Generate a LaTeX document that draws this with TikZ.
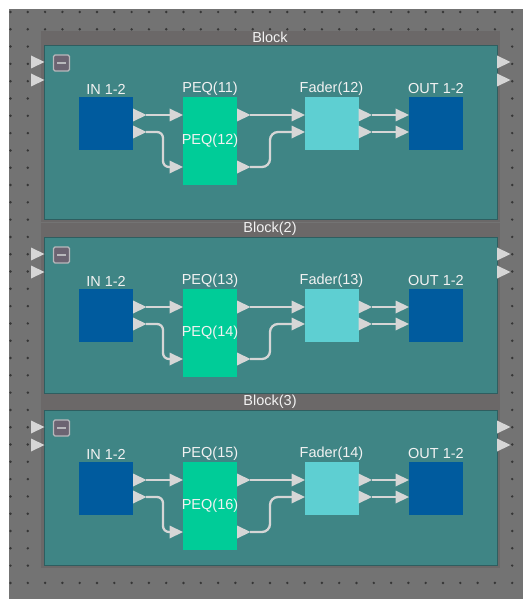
\documentclass[tikz,border=0pt]{standalone}
\usepackage{fontspec}
\setmainfont{Liberation Sans}
\definecolor{bgc}{HTML}{737373}
\definecolor{dotc}{HTML}{363636}
\definecolor{framec}{HTML}{6B6868}
\definecolor{tealc}{HTML}{3F8585}
\definecolor{tealedge}{HTML}{2E5E60}
\definecolor{bluec}{HTML}{005B9E}
\definecolor{peqc}{HTML}{00CC98}
\definecolor{fadc}{HTML}{5ECFD2}
\definecolor{wirec}{HTML}{D6D6D6}
\definecolor{txtc}{HTML}{F2F2F2}
\definecolor{btnc}{HTML}{6C6472}
\definecolor{btnedge}{HTML}{B8B8BC}
\tikzset{
  boxbase/.style={draw=none, inner sep=0pt, minimum width=54pt},
  iobox/.style={boxbase, fill=bluec, minimum height=53pt},
  peqbox/.style={boxbase, fill=peqc, minimum height=44pt},
  fadbox/.style={boxbase, fill=fadc, minimum height=53pt},
  lbl/.style={text=txtc, font=\fontsize{14.5}{16}\selectfont, inner sep=0pt},
  wire/.style={draw=wirec, line width=2.3pt},
  porttri/.style={fill=wirec},
  btnbox/.style={draw=btnedge, fill=btnc, line width=1.4pt, minimum size=16pt, inner sep=0pt, rounded corners=1.5pt},
}
\newcommand\tri[2]{\fill[porttri] (#1,#2-6.5) -- (#1+13.5,#2) -- (#1,#2+6.5) -- cycle;}
\begin{document}
\begin{tikzpicture}[x=1pt,y=-1pt]
\useasboundingbox (0,0) rectangle (523,599);
\fill[white] (0,0) rectangle (523,599);
\fill[bgc] (9,9) rectangle (523,599);
\foreach \i in {0,...,29}{\foreach \j in {0,...,33}{\fill[dotc] (10.5+17.3*\i,12+17.3*\j) circle[radius=1.35pt];}}
\foreach \b/\T/\H/\ttl/\pa/\pb/\fd in {1/45/174/Block/11/12/12, 2/237/156/{Block(2)}/13/14/13, 3/410/155/{Block(3)}/15/16/14}{
  \fill[framec] (41,\T-14) rectangle (500,\T+\H+3);
  \filldraw[fill=tealc, draw=tealedge, line width=0.8pt] (44,\T) rectangle (497,\T+\H);
  \node[lbl] (title\b) at (270,\T-8) {\ttl};
  \node[btnbox] (btn\b) at (61.5,\T+18) {};
  \draw[btnedge, line width=1.6pt] ([xshift=-4.5pt]btn\b.center) -- ([xshift=4.5pt]btn\b.center);
  % modules
  \node[iobox] (in\b) at (106,\T+78.5) {};
  \node[peqbox] (peqa\b) at (210,\T+74) {};
  \node[peqbox] (peqb\b) at (210,\T+118) {};
  \node[fadbox] (fad\b) at (331.5,\T+78.5) {};
  \node[iobox] (out\b) at (436,\T+78.5) {};
  % labels
  \node[lbl] (inl\b) at (106,\T+44) {IN 1-2};
  \node[lbl] (peqal\b) at (210,\T+44) {PEQ(\pa)};
  \node[lbl] (peqbl\b) at (210,\T+96) {PEQ(\pb)};
  \node[lbl] (fadl\b) at (331.5,\T+44) {Fader(\fd)};
  \node[lbl] (outl\b) at (436,\T+44) {OUT 1-2};
  % port coordinates
  \coordinate (in\b-o1) at (146,\T+70);
  \coordinate (in\b-o2) at (146,\T+87);
  \coordinate (peqa\b-i) at (170,\T+70);
  \coordinate (peqb\b-i) at (170,\T+122);
  \coordinate (peqa\b-o) at (250,\T+70);
  \coordinate (peqb\b-o) at (250,\T+122);
  \coordinate (fad\b-i1) at (292,\T+70);
  \coordinate (fad\b-i2) at (292,\T+87);
  \coordinate (fad\b-o1) at (371.5,\T+70);
  \coordinate (fad\b-o2) at (371.5,\T+87);
  \coordinate (out\b-i1) at (396,\T+70);
  \coordinate (out\b-i2) at (396,\T+87);
  % wires
  \draw[wire] (in\b-o1) -- (peqa\b-i);
  \draw[wire, rounded corners=6pt] (in\b-o2) -| ([xshift=-7pt]peqb\b-i) -- (peqb\b-i);
  \draw[wire] (peqa\b-o) -- (fad\b-i1);
  \draw[wire, rounded corners=8pt] (peqb\b-o) -| ([xshift=-22pt]fad\b-i2) -- (fad\b-i2);
  \draw[wire] (fad\b-o1) -- (out\b-i1);
  \draw[wire] (fad\b-o2) -- (out\b-i2);
  % port triangles
  \tri{133}{\T+70} \tri{133}{\T+87}
  \tri{169.5}{\T+70} \tri{237}{\T+70}
  \tri{169.5}{\T+122} \tri{237}{\T+122}
  \tri{291.5}{\T+70} \tri{291.5}{\T+87}
  \tri{358.5}{\T+70} \tri{358.5}{\T+87}
  \tri{395.5}{\T+70} \tri{395.5}{\T+87}
  \tri{31}{\T+17} \tri{31}{\T+35}
  \tri{497}{\T+17} \tri{497}{\T+35}
}
\end{tikzpicture}
\end{document}
